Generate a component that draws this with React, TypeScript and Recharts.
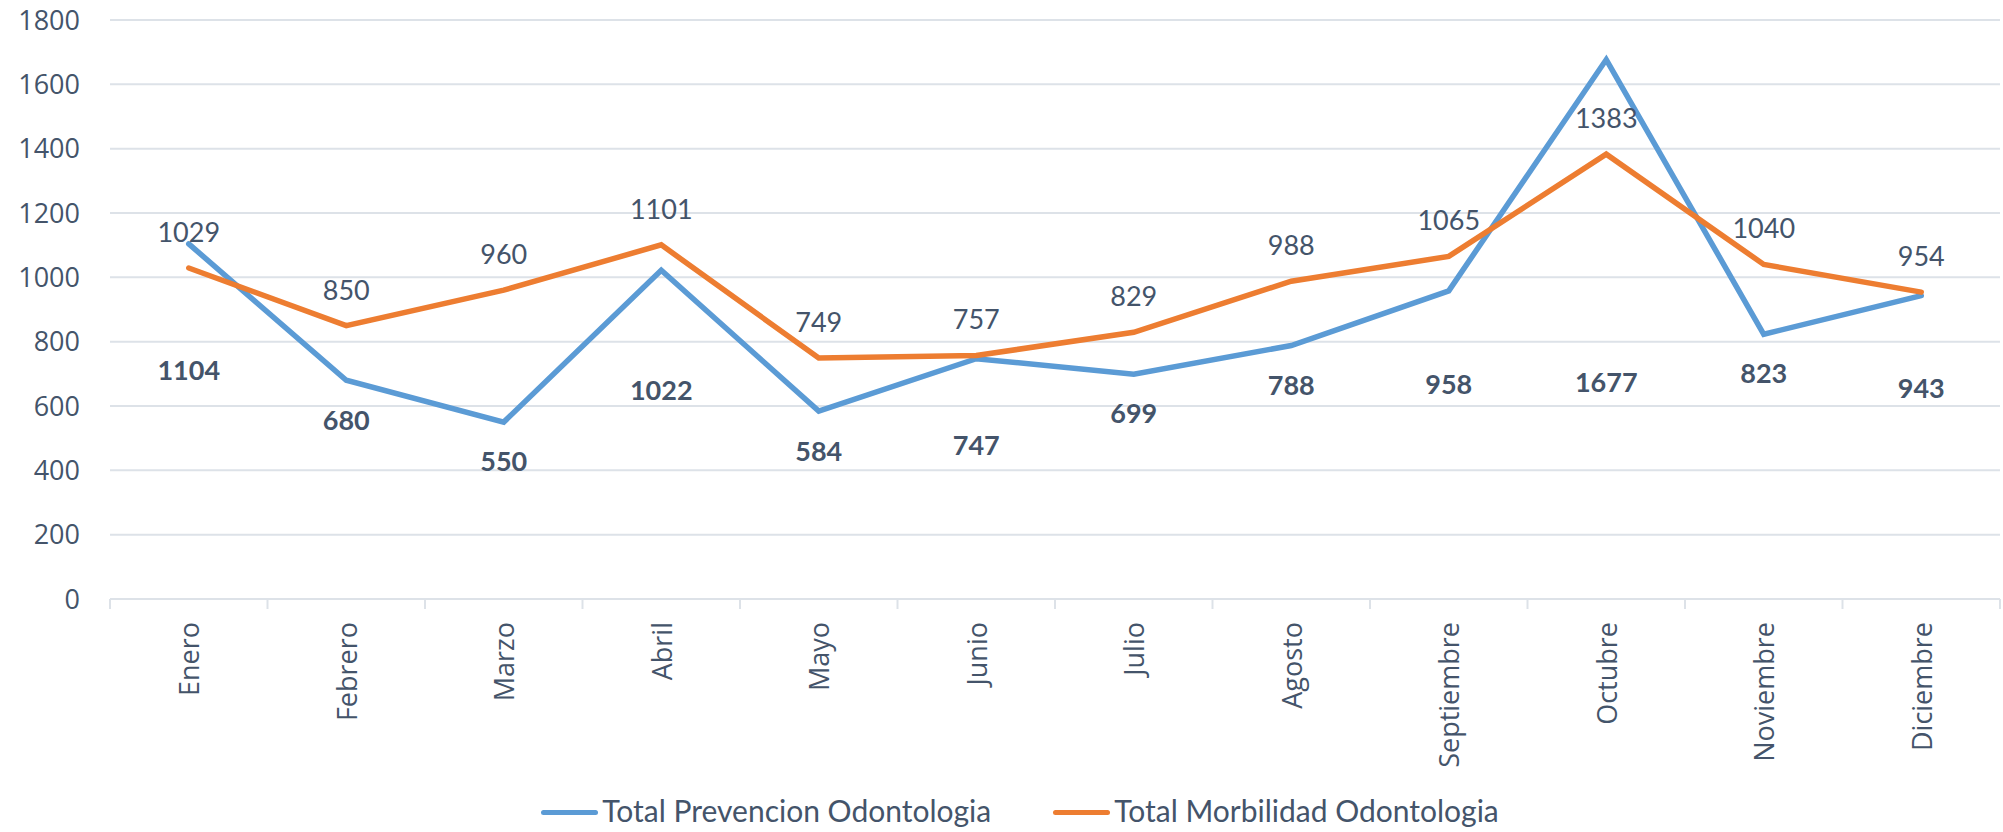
import { LineChart, Line, XAxis, YAxis, CartesianGrid, Legend, LabelList } from 'recharts';

const months = [
  'Enero', 'Febrero', 'Marzo', 'Abril', 'Mayo', 'Junio',
  'Julio', 'Agosto', 'Septiembre', 'Octubre', 'Noviembre', 'Diciembre',
];
const prevencion = [1104, 680, 550, 1022, 584, 747, 699, 788, 958, 1677, 823, 943];
const morbilidad = [1029, 850, 960, 1101, 749, 757, 829, 988, 1065, 1383, 1040, 954];
const yTicks = [0, 200, 400, 600, 800, 1000, 1200, 1400, 1600, 1800];

// the bold labels were dragged by hand in the original: pixel offset below each point
const prevLabelDy = [136, 50, 49, 130, 50, 96, 49, 49, 103, 332, 49, 102];

const W = 2003;
const H = 832;
const PLOT_LEFT = 110;
const PLOT_RIGHT = 3;
const BAND = (W - PLOT_LEFT - PLOT_RIGHT) / months.length;

const BLUE = '#5B9BD5';
const ORANGE = '#ED7D31';
const TEXT = '#44546A';
const GRID = '#DDE2E8';
const AXIS_FONT = '"Open Sans", sans-serif';
const LABEL_FONT = 'Lato, sans-serif';

const data = months.map((m, i) => ({ month: m, prevencion: prevencion[i], morbilidad: morbilidad[i] }));

const MonthTick = (props: any) => {
  const { x, y, payload, index } = props;
  const left = x - BAND / 2;
  return (
    <g>
      <line x1={left} y1={y - 23} x2={left} y2={y - 13} stroke={GRID} strokeWidth={2} />
      {index === months.length - 1 && (
        <line x1={x + BAND / 2} y1={y - 23} x2={x + BAND / 2} y2={y - 13} stroke={GRID} strokeWidth={2} />
      )}
      <text
        x={x}
        y={y}
        transform={`rotate(-90, ${x}, ${y})`}
        textAnchor="end"
        dominantBaseline="central"
        fill={TEXT}
        fontFamily={AXIS_FONT}
        fontSize={27}
      >
        {payload.value}
      </text>
    </g>
  );
};

const prevLabel = (props: any) => {
  const { x, y, value, index } = props;
  return (
    <text x={x} y={y + prevLabelDy[index]} textAnchor="middle" fill={TEXT} fontFamily={LABEL_FONT} fontWeight={700} fontSize={27}>
      {value}
    </text>
  );
};

const morbLabel = (props: any) => {
  const { x, y, value } = props;
  return (
    <text x={x} y={y - 26} textAnchor="middle" fill={TEXT} fontFamily={LABEL_FONT} fontSize={27}>
      {value}
    </text>
  );
};

const legendItems = [
  { name: 'Total Prevencion Odontologia', color: BLUE },
  { name: 'Total Morbilidad Odontologia', color: ORANGE },
];

const renderLegend = () => (
  <div style={{ display: 'flex', justifyContent: 'center', alignItems: 'center', height: 45, gap: 62, paddingLeft: 40 }}>
    {legendItems.map((it) => (
      <div key={it.name} style={{ display: 'flex', alignItems: 'center' }}>
        <div style={{ width: 57, height: 5, borderRadius: 3, background: it.color, marginRight: 4, marginTop: 6 }} />
        <span style={{ fontFamily: LABEL_FONT, fontSize: 30, color: TEXT }}>{it.name}</span>
      </div>
    ))}
  </div>
);

export default function App() {
  return (
    <div style={{ position: 'absolute', left: 0, top: 0, background: '#fff' }}>
      <LineChart width={W} height={H} data={data} margin={{ top: 20, right: PLOT_RIGHT, left: 0, bottom: 0 }}>
        <CartesianGrid horizontal vertical={false} stroke={GRID} strokeWidth={2} />
        <XAxis
          dataKey="month"
          height={188}
          interval={0}
          padding={{ left: BAND / 2, right: BAND / 2 }}
          tickLine={false}
          axisLine={{ stroke: GRID, strokeWidth: 2 }}
          tick={<MonthTick />}
          tickSize={0}
          tickMargin={23}
        />
        <YAxis
          width={PLOT_LEFT}
          domain={[0, 1800]}
          ticks={yTicks}
          axisLine={false}
          tickLine={false}
          tickSize={0}
          tickMargin={30}
          tick={{ fill: TEXT, fontFamily: AXIS_FONT, fontSize: 27 }}
        />
        <Legend verticalAlign="bottom" height={45} content={renderLegend} />
        <Line
          dataKey="prevencion"
          name="Total Prevencion Odontologia"
          stroke={BLUE}
          strokeWidth={5.5}
          strokeLinecap="round"
          dot={false}
          activeDot={false}
          isAnimationActive={false}
        >
          <LabelList dataKey="prevencion" content={prevLabel} />
        </Line>
        <Line
          dataKey="morbilidad"
          name="Total Morbilidad Odontologia"
          stroke={ORANGE}
          strokeWidth={5.5}
          strokeLinecap="round"
          dot={false}
          activeDot={false}
          isAnimationActive={false}
        >
          <LabelList dataKey="morbilidad" content={morbLabel} />
        </Line>
      </LineChart>
    </div>
  );
}
